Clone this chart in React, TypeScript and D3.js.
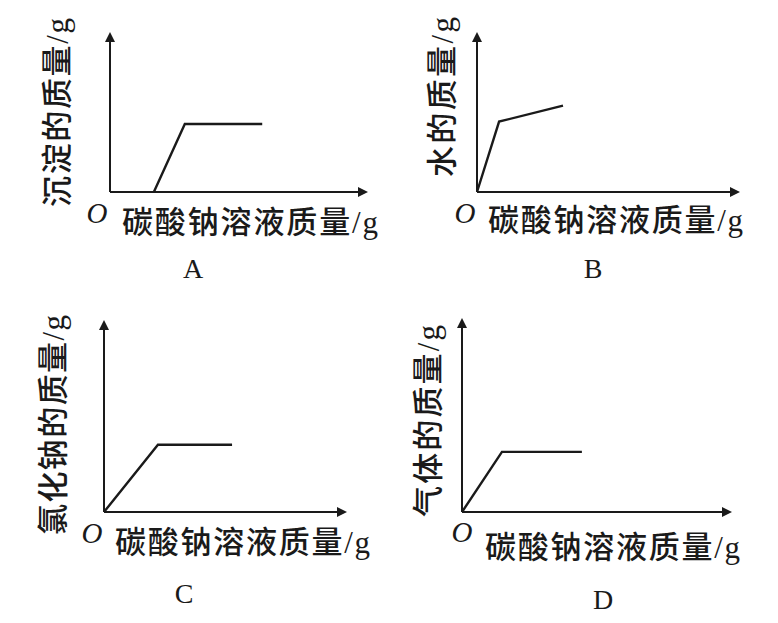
import * as d3 from "d3";

// x: 碳酸钠溶液质量 (axis units 0–10), y: the mass on each panel's own axis (0–10)
const seriesA: [number, number][] = [[1.7, 0], [2.9, 4.25], [5.9, 4.25]];
const seriesB: [number, number][] = [[0, 0], [0.84, 4.4], [3.27, 5.4]];
const seriesC: [number, number][] = [[0, 0], [2.22, 3.5], [5.27, 3.5]];
const seriesD: [number, number][] = [[0, 0], [1.48, 3.1], [4.44, 3.1]];

const panelLetters = ["A", "B", "C", "D"];
const yTitles = ["沉淀的质量/g", "水的质量/g", "氯化钠的质量/g", "气体的质量/g"];
const xTitle = "碳酸钠溶液质量/g";

const W = 778;
const H = 623;
const FONT = "'Liberation Serif', 'Noto Sans CJK SC', serif";
const INK = "#1a1a1a";

interface Layout {
  ox: number; oy: number; xEnd: number; yEnd: number;
  oPos: [number, number];
  letter: [number, number];
  xTitle: [number, number, number];
  yTitle: [number, number, number];
}

const layouts: Layout[] = [
  { ox: 110, oy: 192, xEnd: 368, yEnd: 32, oPos: [97, 213], letter: [193, 268], xTitle: [122, 222, 256], yTitle: [57, 207, 189] },
  { ox: 477, oy: 192, xEnd: 740, yEnd: 32, oPos: [465, 213], letter: [593, 268], xTitle: [488, 220, 255], yTitle: [442, 177, 160] },
  { ox: 104, oy: 512, xEnd: 347, yEnd: 320, oPos: [92, 533], letter: [184, 593], xTitle: [115, 542, 255], yTitle: [53, 535, 220] },
  { ox: 462, oy: 512, xEnd: 732, yEnd: 318, oPos: [462, 532], letter: [603, 599], xTitle: [485, 547, 255], yTitle: [428, 517, 192] },
];

const allSeries = [seriesA, seriesB, seriesC, seriesD];

function Panel({ i }: { i: number }) {
  const L = layouts[i];
  const x = d3.scaleLinear().domain([0, 10]).range([L.ox, L.xEnd]);
  const y = d3.scaleLinear().domain([0, 10]).range([L.oy, L.yEnd]);
  const line = d3.line<[number, number]>().x((d) => x(d[0])).y((d) => y(d[1]));
  const a = 10;
  const xTip = x(10);
  const yTip = y(10);
  return (
    <g>
      {/* axes */}
      <line x1={x(0)} y1={y(0)} x2={xTip - 4} y2={y(0)} stroke={INK} strokeWidth={2} />
      <line x1={x(0)} y1={y(0)} x2={x(0)} y2={yTip + 4} stroke={INK} strokeWidth={2} />
      <path d={`M${xTip},${y(0)} L${xTip - a},${y(0) - a / 2} L${xTip - a},${y(0) + a / 2} Z`} fill={INK} />
      <path d={`M${x(0)},${yTip} L${x(0) - a / 2},${yTip + a} L${x(0) + a / 2},${yTip + a} Z`} fill={INK} />
      {/* curve */}
      <path d={line(allSeries[i]) ?? ""} fill="none" stroke={INK} strokeWidth={2.4} strokeLinejoin="miter" />
      {/* labels */}
      <text x={L.oPos[0]} y={L.oPos[1]} fontSize={29} fontStyle="italic" textAnchor="middle" dominantBaseline="central" fill={INK}>
        O
      </text>
      <text x={L.xTitle[0]} y={L.xTitle[1]} fontSize={31} fontWeight={500} dominantBaseline="central" textLength={L.xTitle[2]} lengthAdjust="spacing" fill={INK}>
        {xTitle}
      </text>
      <text
        transform={`translate(${L.yTitle[0]},${L.yTitle[1]}) rotate(-90)`}
        fontSize={31}
        fontWeight={500}
        dominantBaseline="central"
        textLength={L.yTitle[2]}
        lengthAdjust="spacing"
        fill={INK}
      >
        {yTitles[i]}
      </text>
      <text x={L.letter[0]} y={L.letter[1]} fontSize={28} textAnchor="middle" dominantBaseline="central" fill={INK}>
        {panelLetters[i]}
      </text>
    </g>
  );
}

export default function App() {
  return (
    <svg
      width={W}
      height={H}
      viewBox={`0 0 ${W} ${H}`}
      style={{ position: "absolute", left: 0, top: 0, background: "#fff" }}
      fontFamily={FONT}
    >
      <rect width={W} height={H} fill="#fff" />
      {panelLetters.map((_, i) => (
        <Panel key={i} i={i} />
      ))}
    </svg>
  );
}
